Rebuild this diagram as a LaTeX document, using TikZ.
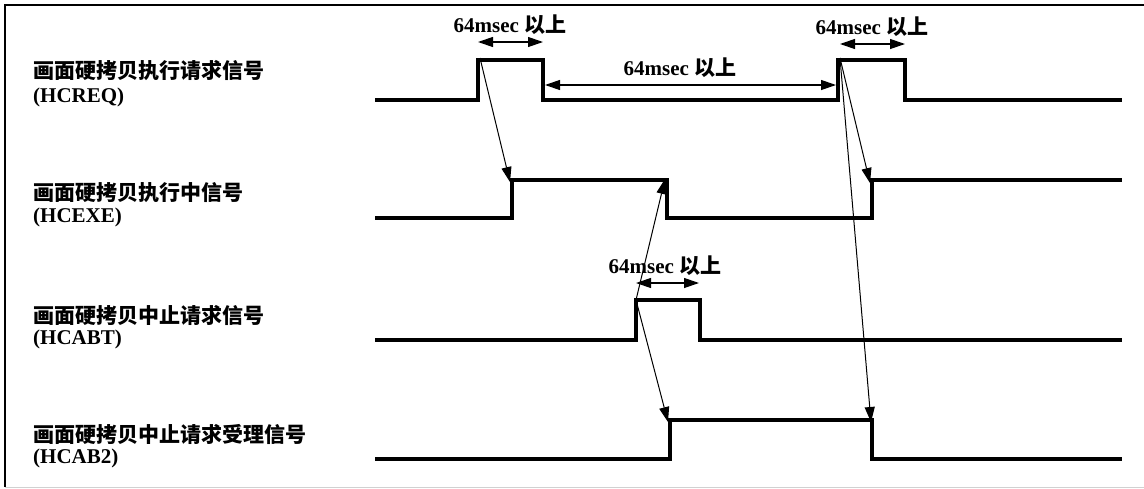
\documentclass[tikz,border=0pt]{standalone}
\usepackage{fontspec}
\setmainfont{Liberation Serif}
\newfontfamily\cjk{Noto Sans CJK SC}
\usetikzlibrary{arrows.meta}
\begin{document}
\begin{tikzpicture}[x=1pt,y=-1pt,
  sig/.style={line width=4pt, line join=miter, line cap=butt},
  cause/.style={line width=1pt, -{Triangle[length=15pt,width=10pt]}},
  dim/.style={line width=1.2pt, {Triangle[length=15pt,width=10pt]}-{Triangle[length=15pt,width=10pt]}},
  lab/.style={anchor=west, inner sep=0pt, font=\fontsize{21}{24}\selectfont\bfseries},
  tlab/.style={inner sep=0pt, font=\fontsize{21}{24}\selectfont\bfseries}]
\useasboundingbox (0,0) rectangle (1144,488);
% frame
\draw[line width=1.5pt] (1144,5) -- (5,5) -- (5,487);
\draw[line width=1pt, black!18] (5,487) -- (1144,487);
% labels
\node[lab] (l1a) at (33,71) {\cjk 画面硬拷贝执行请求信号};
\node[lab] (l1b) at (33,97) {(HCREQ)};
\node[lab] (l2a) at (33,193) {\cjk 画面硬拷贝执行中信号};
\node[lab] (l2b) at (33,217) {(HCEXE)};
\node[lab] (l3a) at (33,315) {\cjk 画面硬拷贝中止请求信号};
\node[lab] (l3b) at (33,339) {(HCABT)};
\node[lab] (l4a) at (33,434) {\cjk 画面硬拷贝中止请求受理信号};
\node[lab] (l4b) at (33,458) {(HCAB2)};
% key coordinates
\coordinate (q1) at (478,60);  \coordinate (q2) at (543,60);
\coordinate (q3) at (838,60);  \coordinate (q4) at (905,60);
\coordinate (e1) at (512,180); \coordinate (e2) at (667,180);
\coordinate (e3) at (872,180);
\coordinate (b1) at (636,300); \coordinate (b2) at (700,300);
\coordinate (c1) at (670,420); \coordinate (c2) at (872,420);
% signals
\draw[sig] (375,100) -- (478,100) -- (q1) -- (q2) -- (543,100) -- (838,100) -- (q3) -- (q4) -- (905,100) -- (1122,100);
\draw[sig] (375,218) -- (512,218) -- (e1) -- (e2) -- (667,218) -- (872,218) -- (e3) -- (1122,180);
\draw[sig] (375,340) -- (636,340) -- (b1) -- (b2) -- (700,340) -- (1122,340);
\draw[sig] (375,459) -- (670,459) -- (c1) -- (c2) -- (872,459) -- (1122,459);
% causal arrows
\draw[cause] ([xshift=2pt,yshift=2pt]q1) -- ([xshift=-2pt,yshift=-2pt]e1);
\draw[cause] (b1) -- ([xshift=-2pt,yshift=1pt]e2);
\draw[cause] (b1) -- ([xshift=-2pt,yshift=-2pt]c1);
\draw[cause] ([xshift=2pt,yshift=2pt]q3) -- ([xshift=-2pt,yshift=-3pt]e3);
\draw[cause] ([xshift=2pt,yshift=2pt]q3) -- ([xshift=-1pt,yshift=-2pt]c2);
% dimension arrows
\coordinate (d1a) at (478,42); \coordinate (d1b) at (543,42);
\coordinate (d2a) at (545,85); \coordinate (d2b) at (836,85);
\coordinate (d3a) at (840,44); \coordinate (d3b) at (905,44);
\coordinate (d4a) at (636,283); \coordinate (d4b) at (699,283);
\draw[dim] (d1a) -- (d1b);
\draw[dim] (d2a) -- (d2b);
\draw[dim] (d3a) -- (d3b);
\draw[dim] (d4a) -- (d4b);
\node[tlab] (t1) at (510,25) {64msec {\cjk 以上}};
\node[tlab] (t2) at (680,68) {64msec {\cjk 以上}};
\node[tlab] (t3) at (872,27) {64msec {\cjk 以上}};
\node[tlab] (t4) at (665,266) {64msec {\cjk 以上}};
\end{tikzpicture}
\end{document}
